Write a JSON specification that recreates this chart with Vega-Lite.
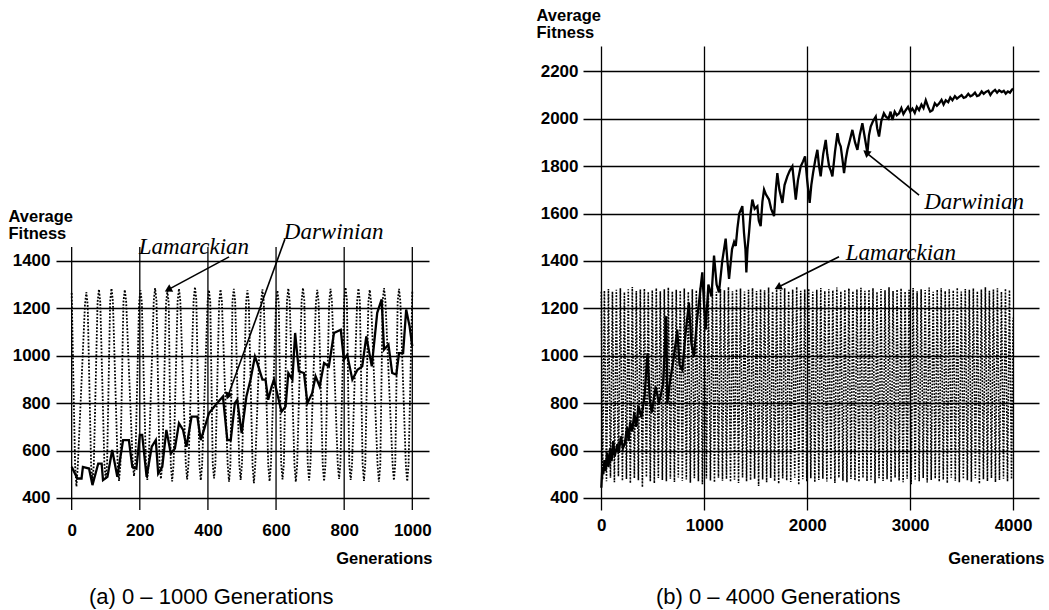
{
  "$schema": "https://vega.github.io/schema/vega-lite/v6.json",
  "background": "white",
  "padding": {"left": 8, "top": 7, "right": 5, "bottom": 5},
  "bounds": "flush",
  "spacing": 154,
  "config": {
    "view": {"stroke": null},
    "font": "Liberation Sans",
    "axis": {"domain": false, "ticks": false, "grid": true, "gridColor": "black", "gridWidth": 1.3, "gridOpacity": 1, "format": "d",
      "labelFont": "Liberation Sans", "labelFontWeight": "bold", "labelFontSize": 17, "labelColor": "black",
      "titleFont": "Liberation Sans", "titleFontWeight": "bold", "titleFontSize": 16.5, "titleColor": "black"},
    "title": {"font": "Liberation Sans", "fontSize": 22, "fontWeight": "normal", "color": "black"}
  },
  "datasets": {
    "gridL": [{"g":0},{"g":200},{"g":400},{"g":600},{"g":800},{"g":1000}],
    "annL": [
      {"name":"Lamarckian","tx":359,"ty":1459,"ax1":462,"ay1":1417,"ax2":286,"ay2":1281},
      {"name":"Darwinian","tx":769,"ty":1523,"ax1":626,"ay1":1492,"ax2":460,"ay2":834}
    ],
    "annR": [
      {"name":"Darwinian","tx":3621,"ty":1650,"ax1":3087,"ay1":1678,"ax2":2582,"ay2":1854},
      {"name":"Lamarckian","tx":2911,"ty":1432,"ax1":2309,"ay1":1418,"ax2":1726,"ay2":1291}
    ],
    "lamL": [
      {"g":0,"f":1265},{"g":10,"f":540},{"g":14,"f":448},{"g":18,"f":535},
      {"g":39,"f":1215},{"g":43,"f":1268},{"g":47,"f":1215},
      {"g":57,"f":540},{"g":61,"f":468},{"g":65,"f":540},
      {"g":76,"f":1225},{"g":80,"f":1280},{"g":84,"f":1225},
      {"g":96,"f":545},{"g":100,"f":478},{"g":104,"f":545},
      {"g":113,"f":1230},{"g":117,"f":1284},{"g":121,"f":1230},
      {"g":135,"f":540},{"g":139,"f":472},{"g":143,"f":540},
      {"g":152,"f":1228},{"g":156,"f":1278},{"g":160,"f":1228},
      {"g":179,"f":555},{"g":183,"f":492},{"g":187,"f":555},
      {"g":198,"f":1225},{"g":202,"f":1276},{"g":206,"f":1225},
      {"g":218,"f":545},{"g":222,"f":476},{"g":226,"f":545},
      {"g":241,"f":1232},{"g":245,"f":1285},{"g":249,"f":1232},
      {"g":258,"f":545},{"g":262,"f":480},{"g":266,"f":545},
      {"g":277,"f":1220},{"g":281,"f":1274},{"g":285,"f":1220},
      {"g":291,"f":540},{"g":295,"f":470},{"g":299,"f":540},
      {"g":311,"f":1230},{"g":315,"f":1283},{"g":319,"f":1230},
      {"g":335,"f":545},{"g":339,"f":478},{"g":343,"f":545},
      {"g":358,"f":1235},{"g":362,"f":1290},{"g":366,"f":1235},
      {"g":375,"f":540},{"g":379,"f":474},{"g":383,"f":540},
      {"g":399,"f":1225},{"g":403,"f":1277},{"g":407,"f":1225},
      {"g":414,"f":545},{"g":418,"f":482},{"g":422,"f":545},
      {"g":433,"f":1228},{"g":437,"f":1280},{"g":441,"f":1228},
      {"g":458,"f":540},{"g":462,"f":468},{"g":466,"f":540},
      {"g":472,"f":1230},{"g":476,"f":1282},{"g":480,"f":1230},
      {"g":492,"f":545},{"g":496,"f":476},{"g":500,"f":545},
      {"g":512,"f":1225},{"g":516,"f":1276},{"g":520,"f":1225},
      {"g":531,"f":540},{"g":535,"f":462},{"g":539,"f":540},
      {"g":556,"f":1228},{"g":560,"f":1280},{"g":564,"f":1228},
      {"g":577,"f":540},{"g":581,"f":470},{"g":585,"f":540},
      {"g":600,"f":1222},{"g":604,"f":1275},{"g":608,"f":1222},
      {"g":615,"f":545},{"g":619,"f":478},{"g":623,"f":545},
      {"g":632,"f":1230},{"g":636,"f":1284},{"g":640,"f":1230},
      {"g":654,"f":540},{"g":658,"f":468},{"g":662,"f":540},
      {"g":675,"f":1232},{"g":679,"f":1286},{"g":683,"f":1232},
      {"g":693,"f":545},{"g":697,"f":474},{"g":701,"f":545},
      {"g":717,"f":1225},{"g":721,"f":1278},{"g":725,"f":1225},
      {"g":737,"f":540},{"g":741,"f":470},{"g":745,"f":540},
      {"g":756,"f":1228},{"g":760,"f":1282},{"g":764,"f":1228},
      {"g":781,"f":545},{"g":785,"f":480},{"g":789,"f":545},
      {"g":800,"f":1235},{"g":804,"f":1288},{"g":808,"f":1235},
      {"g":815,"f":540},{"g":819,"f":476},{"g":823,"f":540},
      {"g":838,"f":1230},{"g":842,"f":1284},{"g":846,"f":1230},
      {"g":854,"f":545},{"g":858,"f":472},{"g":862,"f":545},
      {"g":871,"f":1225},{"g":875,"f":1278},{"g":879,"f":1225},
      {"g":898,"f":540},{"g":902,"f":468},{"g":906,"f":540},
      {"g":913,"f":1232},{"g":917,"f":1285},{"g":921,"f":1232},
      {"g":942,"f":545},{"g":946,"f":474},{"g":950,"f":545},
      {"g":957,"f":1228},{"g":961,"f":1282},{"g":965,"f":1228},
      {"g":981,"f":540},{"g":985,"f":470},{"g":989,"f":540},
      {"g":1000,"f":1270}
    ],
    "darL": [
      {"g":0,"f":531},{"g":17,"f":482},{"g":29,"f":482},{"g":33,"f":531},{"g":51,"f":524},{"g":61,"f":454},
      {"g":78,"f":545},{"g":88,"f":545},{"g":92,"f":475},{"g":105,"f":489},{"g":119,"f":602},{"g":134,"f":489},
      {"g":151,"f":644},{"g":168,"f":644},{"g":178,"f":531},{"g":190,"f":524},{"g":200,"f":666},{"g":207,"f":666},
      {"g":220,"f":489},{"g":235,"f":616},{"g":247,"f":644},{"g":254,"f":503},{"g":266,"f":531},{"g":278,"f":687},
      {"g":291,"f":588},{"g":303,"f":609},{"g":315,"f":715},{"g":327,"f":687},{"g":337,"f":616},{"g":352,"f":743},
      {"g":369,"f":743},{"g":379,"f":644},{"g":403,"f":757},{"g":423,"f":793},{"g":444,"f":828},{"g":457,"f":644},
      {"g":467,"f":644},{"g":479,"f":800},{"g":486,"f":814},{"g":499,"f":673},{"g":513,"f":828},{"g":525,"f":899},
      {"g":538,"f":997},{"g":545,"f":969},{"g":560,"f":899},{"g":569,"f":899},{"g":577,"f":814},{"g":587,"f":870},
      {"g":594,"f":899},{"g":616,"f":764},{"g":628,"f":786},{"g":636,"f":927},{"g":648,"f":899},{"g":656,"f":1096},
      {"g":667,"f":934},{"g":682,"f":927},{"g":692,"f":800},{"g":706,"f":842},{"g":716,"f":913},{"g":728,"f":870},
      {"g":741,"f":969},{"g":755,"f":955},{"g":770,"f":1096},{"g":790,"f":1110},{"g":799,"f":983},{"g":809,"f":1004},
      {"g":824,"f":899},{"g":839,"f":941},{"g":853,"f":955},{"g":865,"f":1082},{"g":881,"f":955},{"g":897,"f":1181},
      {"g":910,"f":1238},{"g":917,"f":1026},{"g":930,"f":1047},{"g":941,"f":927},{"g":953,"f":920},{"g":961,"f":1011},
      {"g":973,"f":1011},{"g":982,"f":1195},{"g":992,"f":1124},{"g":1000,"f":1040}
    ],
    "lamR": [
      {"g":0,"f":1270},
      {"g":12,"f":478},{"g":30,"f":1275},{"g":50,"f":470},{"g":69,"f":1282},{"g":89,"f":485},{"g":108,"f":1270},
      {"g":127,"f":466},{"g":146,"f":1278},{"g":166,"f":490},{"g":185,"f":1285},{"g":205,"f":472},{"g":224,"f":1268},
      {"g":244,"f":480},{"g":262,"f":1280},{"g":282,"f":462},{"g":301,"f":1290},{"g":321,"f":483},{"g":340,"f":1273},
      {"g":360,"f":475},{"g":379,"f":1279},{"g":399,"f":445},{"g":418,"f":1283},{"g":438,"f":488},{"g":456,"f":1270},
      {"g":476,"f":470},{"g":495,"f":1276},{"g":515,"f":462},{"g":534,"f":1285},{"g":554,"f":484},{"g":573,"f":1272},
      {"g":593,"f":476},{"g":612,"f":1280},{"g":632,"f":470},{"g":651,"f":1288},{"g":671,"f":481},{"g":690,"f":1271},
      {"g":710,"f":467},{"g":728,"f":1279},{"g":748,"f":486},{"g":767,"f":1275},{"g":787,"f":471},{"g":806,"f":1284},
      {"g":826,"f":478},{"g":845,"f":1270},{"g":865,"f":464},{"g":884,"f":1281},{"g":904,"f":483},{"g":923,"f":1276},
      {"g":943,"f":470},{"g":962,"f":1287},{"g":982,"f":458},{"g":1001,"f":1273},{"g":1021,"f":482},{"g":1040,"f":1279},
      {"g":1060,"f":474},{"g":1079,"f":1285},{"g":1099,"f":466},{"g":1118,"f":1270},{"g":1138,"f":485},{"g":1157,"f":1282},
      {"g":1177,"f":472},{"g":1196,"f":1276},{"g":1216,"f":480},{"g":1235,"f":1290},{"g":1255,"f":468},{"g":1274,"f":1272},
      {"g":1294,"f":477},{"g":1313,"f":1280},{"g":1333,"f":463},{"g":1352,"f":1284},{"g":1372,"f":486},{"g":1391,"f":1271},
      {"g":1411,"f":470},{"g":1430,"f":1278},{"g":1450,"f":475},{"g":1469,"f":1286},{"g":1489,"f":481},{"g":1508,"f":1273},
      {"g":1528,"f":450},{"g":1547,"f":1280},{"g":1567,"f":478},{"g":1586,"f":1276},{"g":1606,"f":466},{"g":1625,"f":1288},
      {"g":1645,"f":484},{"g":1664,"f":1270},{"g":1684,"f":471},{"g":1703,"f":1281},{"g":1723,"f":460},{"g":1742,"f":1277},
      {"g":1762,"f":482},{"g":1781,"f":1285},{"g":1801,"f":474},{"g":1820,"f":1272},{"g":1840,"f":467},{"g":1859,"f":1279},
      {"g":1879,"f":485},{"g":1898,"f":1290},{"g":1918,"f":455},{"g":1937,"f":1274},{"g":1957,"f":479},{"g":1976,"f":1280},
      {"g":1996,"f":470},{"g":2015,"f":1283},{"g":2035,"f":483},{"g":2054,"f":1270},{"g":2074,"f":466},{"g":2093,"f":1278},
      {"g":2113,"f":476},{"g":2132,"f":1286},{"g":2152,"f":481},{"g":2171,"f":1273},{"g":2191,"f":469},{"g":2210,"f":1281},
      {"g":2230,"f":478},{"g":2249,"f":1276},{"g":2269,"f":463},{"g":2288,"f":1288},{"g":2308,"f":485},{"g":2327,"f":1271},
      {"g":2347,"f":472},{"g":2366,"f":1279},{"g":2386,"f":466},{"g":2405,"f":1284},{"g":2425,"f":480},{"g":2444,"f":1272},
      {"g":2464,"f":474},{"g":2483,"f":1280},{"g":2503,"f":468},{"g":2522,"f":1287},{"g":2542,"f":484},{"g":2561,"f":1274},
      {"g":2581,"f":470},{"g":2600,"f":1279},{"g":2620,"f":477},{"g":2639,"f":1285},{"g":2659,"f":462},{"g":2678,"f":1270},
      {"g":2698,"f":483},{"g":2717,"f":1282},{"g":2737,"f":471},{"g":2756,"f":1276},{"g":2776,"f":479},{"g":2795,"f":1289},
      {"g":2815,"f":467},{"g":2834,"f":1273},{"g":2854,"f":485},{"g":2873,"f":1280},{"g":2893,"f":473},{"g":2912,"f":1284},
      {"g":2932,"f":466},{"g":2951,"f":1271},{"g":2971,"f":481},{"g":2990,"f":1278},{"g":3010,"f":458},{"g":3029,"f":1286},
      {"g":3049,"f":478},{"g":3068,"f":1272},{"g":3088,"f":470},{"g":3107,"f":1281},{"g":3127,"f":484},{"g":3146,"f":1277},
      {"g":3166,"f":465},{"g":3185,"f":1288},{"g":3205,"f":476},{"g":3224,"f":1270},{"g":3244,"f":482},{"g":3263,"f":1279},
      {"g":3283,"f":469},{"g":3302,"f":1285},{"g":3322,"f":477},{"g":3341,"f":1273},{"g":3361,"f":463},{"g":3380,"f":1280},
      {"g":3400,"f":485},{"g":3419,"f":1276},{"g":3439,"f":472},{"g":3458,"f":1287},{"g":3478,"f":466},{"g":3497,"f":1271},
      {"g":3517,"f":480},{"g":3536,"f":1282},{"g":3556,"f":474},{"g":3575,"f":1278},{"g":3595,"f":468},{"g":3614,"f":1284},
      {"g":3634,"f":483},{"g":3653,"f":1272},{"g":3673,"f":460},{"g":3692,"f":1280},{"g":3712,"f":478},{"g":3731,"f":1289},
      {"g":3751,"f":471},{"g":3770,"f":1274},{"g":3790,"f":484},{"g":3809,"f":1279},{"g":3829,"f":467},{"g":3848,"f":1285},
      {"g":3868,"f":476},{"g":3887,"f":1270},{"g":3907,"f":481},{"g":3926,"f":1283},{"g":3946,"f":470},{"g":3965,"f":1277},
      {"g":3985,"f":479},{"g":4000,"f":1160}
    ],
    "darR": [
      {"g":0,"f":443},{"g":10,"f":530},{"g":20,"f":500},{"g":30,"f":560},{"g":42,"f":514},{"g":55,"f":590},{"g":70,"f":530},
      {"g":85,"f":610},{"g":100,"f":555},{"g":115,"f":640},{"g":130,"f":575},{"g":156,"f":627},{"g":170,"f":590},{"g":190,"f":660},
      {"g":210,"f":610},{"g":227,"f":627},{"g":250,"f":700},{"g":265,"f":640},{"g":280,"f":720},{"g":300,"f":680},{"g":320,"f":760},
      {"g":340,"f":700},{"g":360,"f":790},{"g":390,"f":740},{"g":420,"f":830},{"g":449,"f":1011},{"g":470,"f":820},{"g":490,"f":760},
      {"g":528,"f":869},{"g":560,"f":800},{"g":600,"f":880},{"g":631,"f":1167},{"g":641,"f":798},{"g":670,"f":900},{"g":700,"f":980},
      {"g":738,"f":1110},{"g":760,"f":960},{"g":787,"f":940},{"g":820,"f":1100},{"g":851,"f":1224},{"g":875,"f":1050},{"g":900,"f":997},
      {"g":930,"f":1150},{"g":955,"f":1250},{"g":981,"f":1352},{"g":1000,"f":1200},{"g":1014,"f":1110},{"g":1040,"f":1300},
      {"g":1070,"f":1250},{"g":1095,"f":1423},{"g":1120,"f":1300},{"g":1143,"f":1267},{"g":1175,"f":1400},{"g":1208,"f":1494},
      {"g":1225,"f":1400},{"g":1241,"f":1324},{"g":1270,"f":1450},{"g":1290,"f":1480},{"g":1306,"f":1463},{"g":1322,"f":1537},
      {"g":1340,"f":1600},{"g":1370,"f":1631},{"g":1386,"f":1519},{"g":1400,"f":1450},{"g":1409,"f":1351},{"g":1420,"f":1450},
      {"g":1435,"f":1519},{"g":1450,"f":1600},{"g":1467,"f":1659},{"g":1490,"f":1620},
      {"g":1516,"f":1631},{"g":1530,"f":1570},{"g":1548,"f":1547},{"g":1565,"f":1650},{"g":1581,"f":1701},{"g":1600,"f":1680},
      {"g":1629,"f":1659},{"g":1650,"f":1620},{"g":1678,"f":1589},{"g":1695,"f":1700},{"g":1710,"f":1771},{"g":1730,"f":1700},
      {"g":1759,"f":1645},{"g":1780,"f":1720},{"g":1807,"f":1757},{"g":1830,"f":1780},{"g":1856,"f":1799},{"g":1870,"f":1740},
      {"g":1889,"f":1659},{"g":1910,"f":1740},{"g":1937,"f":1799},{"g":1960,"f":1820},{"g":1979,"f":1841},{"g":2000,"f":1740},
      {"g":2024,"f":1645},{"g":2040,"f":1720},{"g":2057,"f":1771},{"g":2080,"f":1830},{"g":2099,"f":1869},{"g":2115,"f":1800},
      {"g":2131,"f":1757},{"g":2155,"f":1850},{"g":2180,"f":1911},{"g":2195,"f":1850},{"g":2213,"f":1799},{"g":2230,"f":1780},
      {"g":2245,"f":1757},{"g":2270,"f":1860},{"g":2294,"f":1939},{"g":2310,"f":1900},{"g":2326,"f":1883},{"g":2345,"f":1820},
      {"g":2358,"f":1771},{"g":2375,"f":1830},{"g":2391,"f":1869},{"g":2415,"f":1910},{"g":2439,"f":1953},{"g":2465,"f":1900},
      {"g":2488,"f":1869},{"g":2510,"f":1930},{"g":2536,"f":1981},{"g":2560,"f":1920},{"g":2585,"f":1855},{"g":2600,"f":1930},
      {"g":2617,"f":1967},{"g":2640,"f":1990},{"g":2666,"f":2009},{"g":2680,"f":1960},{"g":2698,"f":1925},{"g":2720,"f":1990},
      {"g":2745,"f":2023},{"g":2763,"f":2010},{"g":2790,"f":2000},{"g":2810,"f":2030},{"g":2828,"f":1995},{"g":2850,"f":2030},
      {"g":2870,"f":2015},{"g":2893,"f":2023},{"g":2915,"f":2045},{"g":2935,"f":2020},{"g":2957,"f":2036},{"g":2980,"f":2050},
      {"g":3000,"f":2030},{"g":3022,"f":2043},{"g":3045,"f":2025},{"g":3065,"f":2050},{"g":3087,"f":2036},{"g":3110,"f":2060},
      {"g":3130,"f":2045},{"g":3152,"f":2078},{"g":3175,"f":2050},{"g":3195,"f":2030},{"g":3217,"f":2036},{"g":3240,"f":2065},
      {"g":3260,"f":2055},{"g":3281,"f":2064},{"g":3305,"f":2080},{"g":3325,"f":2060},{"g":3346,"f":2078},{"g":3370,"f":2070},
      {"g":3390,"f":2090},{"g":3411,"f":2078},{"g":3435,"f":2095},{"g":3455,"f":2085},{"g":3476,"f":2092},{"g":3500,"f":2100},
      {"g":3520,"f":2088},{"g":3541,"f":2092},{"g":3565,"f":2105},{"g":3585,"f":2095},{"g":3605,"f":2099},{"g":3630,"f":2110},
      {"g":3650,"f":2096},{"g":3670,"f":2099},{"g":3695,"f":2115},{"g":3715,"f":2105},{"g":3735,"f":2113},{"g":3760,"f":2118},
      {"g":3780,"f":2100},{"g":3800,"f":2113},{"g":3825,"f":2122},{"g":3845,"f":2110},{"g":3865,"f":2120},{"g":3890,"f":2112},
      {"g":3910,"f":2118},{"g":3929,"f":2106},{"g":3950,"f":2115},{"g":3970,"f":2110},{"g":3985,"f":2120},{"g":4000,"f":2127}
    ]
  },
  "hconcat": [
    {
      "width": 373,
      "height": 464,
      "title": {"text": "(a) 0 – 1000 Generations", "orient": "bottom", "anchor": "start", "frame": "group", "dx": 33, "offset": 20},
      "layer": [
        {
          "data": {"name": "gridL"},
          "mark": {"type": "rule", "color": "black", "strokeWidth": 1.3},
          "encoding": {
            "x": {"field": "g", "type": "quantitative", "scale": {"domain": [-46, 1049], "nice": false, "zero": false}},
            "y": {"datum": 349, "type": "quantitative", "scale": {"domain": [349, 2307], "nice": false, "zero": false}},
            "y2": {"datum": 1459}
          }
        },
        {
          "data": {"name": "lamL"},
          "mark": {"type": "line", "color": "black", "strokeWidth": 1.8, "strokeDash": [1.8, 1.6]},
          "encoding": {
            "x": {"field": "g", "type": "quantitative", "scale": {"domain": [-46, 1049], "nice": false, "zero": false},
              "axis": {"values": [0, 200, 400, 600, 800, 1000], "grid": false, "labelPadding": 12, "title": "Generations",
                "titleX": 376, "titleY": 53, "titleAlign": "right", "titleBaseline": "alphabetic", "titleAnchor": null}},
            "y": {"field": "f", "type": "quantitative", "scale": {"domain": [349, 2307], "nice": false, "zero": false},
              "axis": {"values": [400, 600, 800, 1000, 1200, 1400], "grid": true, "labelPadding": 6, "title": ["Average", "Fitness"],
                "titleAngle": 0, "titleAlign": "left", "titleBaseline": "alphabetic", "titleX": -48, "titleY": 175, "titleLineHeight": 17.5}}
          }
        },
        {
          "data": {"name": "darL"},
          "mark": {"type": "line", "color": "black", "strokeWidth": 2.3},
          "encoding": {
            "x": {"field": "g", "type": "quantitative"},
            "y": {"field": "f", "type": "quantitative"}
          }
        },
        {
          "data": {"name": "annL"},
          "mark": {"type": "rule", "color": "black", "strokeWidth": 1.6},
          "encoding": {
            "x": {"field": "ax1", "type": "quantitative"},
            "y": {"field": "ay1", "type": "quantitative"},
            "x2": {"field": "ax2"},
            "y2": {"field": "ay2"}
          }
        },
        {
          "data": {"name": "annL"},
          "mark": {"type": "text", "font": "Liberation Serif", "fontStyle": "italic", "fontSize": 23, "color": "black", "align": "center", "baseline": "middle"},
          "encoding": {
            "x": {"field": "tx", "type": "quantitative"},
            "y": {"field": "ty", "type": "quantitative"},
            "text": {"field": "name"}
          }
        },
        {
          "data": {"name": "annL"},
          "transform": [{"filter": "datum.name === 'Lamarckian'"}],
          "mark": {"type": "point", "shape": "triangle", "filled": true, "size": 70, "angle": 242, "color": "black", "opacity": 1},
          "encoding": {
            "x": {"field": "ax2", "type": "quantitative"},
            "y": {"field": "ay2", "type": "quantitative"}
          }
        },
        {
          "data": {"name": "annL"},
          "transform": [{"filter": "datum.name === 'Darwinian'"}],
          "mark": {"type": "point", "shape": "triangle", "filled": true, "size": 70, "angle": 200, "color": "black", "opacity": 1},
          "encoding": {
            "x": {"field": "ax2", "type": "quantitative"},
            "y": {"field": "ay2", "type": "quantitative"}
          }
        }
      ]
    },
    {
      "width": 456,
      "height": 464,
      "title": {"text": "(b) 0 – 4000 Generations", "orient": "bottom", "anchor": "start", "frame": "group", "dx": 73, "offset": 20},
      "layer": [
        {
          "data": {"name": "lamR"},
          "mark": {"type": "line", "color": "black", "strokeWidth": 1.6, "strokeDash": [1.8, 1.4]},
          "encoding": {
            "x": {"field": "g", "type": "quantitative", "scale": {"domain": [-178, 4252], "nice": false, "zero": false},
              "axis": {"values": [0, 1000, 2000, 3000, 4000], "grid": true, "labelPadding": 7, "title": "Generations",
                "titleX": 461, "titleY": 53, "titleAlign": "right", "titleBaseline": "alphabetic", "titleAnchor": null}},
            "y": {"field": "f", "type": "quantitative", "scale": {"domain": [349, 2307], "nice": false, "zero": false},
              "axis": {"values": [400, 600, 800, 1000, 1200, 1400, 1600, 1800, 2000, 2200], "grid": true, "labelPadding": 5, "title": ["Average", "Fitness"],
                "titleAngle": 0, "titleAlign": "left", "titleBaseline": "alphabetic", "titleX": -47, "titleY": -25.7, "titleLineHeight": 17.5}}
          }
        },
        {
          "data": {"name": "darR"},
          "mark": {"type": "line", "color": "black", "strokeWidth": 2.3},
          "encoding": {
            "x": {"field": "g", "type": "quantitative"},
            "y": {"field": "f", "type": "quantitative"}
          }
        },
        {
          "data": {"name": "annR"},
          "mark": {"type": "rule", "color": "black", "strokeWidth": 1.6},
          "encoding": {
            "x": {"field": "ax1", "type": "quantitative"},
            "y": {"field": "ay1", "type": "quantitative"},
            "x2": {"field": "ax2"},
            "y2": {"field": "ay2"}
          }
        },
        {
          "data": {"name": "annR"},
          "mark": {"type": "text", "font": "Liberation Serif", "fontStyle": "italic", "fontSize": 23, "color": "black", "align": "center", "baseline": "middle"},
          "encoding": {
            "x": {"field": "tx", "type": "quantitative"},
            "y": {"field": "ty", "type": "quantitative"},
            "text": {"field": "name"}
          }
        },
        {
          "data": {"name": "annR"},
          "transform": [{"filter": "datum.name === 'Darwinian'"}],
          "mark": {"type": "point", "shape": "triangle", "filled": true, "size": 70, "angle": 309, "color": "black", "opacity": 1},
          "encoding": {
            "x": {"field": "ax2", "type": "quantitative"},
            "y": {"field": "ay2", "type": "quantitative"}
          }
        },
        {
          "data": {"name": "annR"},
          "transform": [{"filter": "datum.name === 'Lamarckian'"}],
          "mark": {"type": "point", "shape": "triangle", "filled": true, "size": 70, "angle": 243, "color": "black", "opacity": 1},
          "encoding": {
            "x": {"field": "ax2", "type": "quantitative"},
            "y": {"field": "ay2", "type": "quantitative"}
          }
        }
      ]
    }
  ]
}
